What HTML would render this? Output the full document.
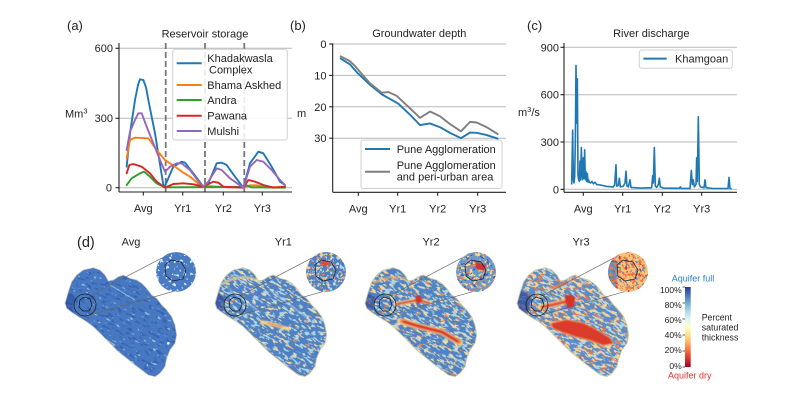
<!DOCTYPE html>
<html><head><meta charset="utf-8"><style>
html,body{margin:0;padding:0;background:#fff;width:800px;height:400px;overflow:hidden;}
svg{display:block;position:absolute;left:0;top:0}
text{font-family:"Liberation Sans",Arial,sans-serif;fill:#222}
</style></head><body>
<svg width="800" height="400" viewBox="0 0 800 400" xmlns="http://www.w3.org/2000/svg">
<defs>
<path id="shp" d="M65,303.3 L68.3,291.7 L71.7,281.7 L76.7,275 L83.3,270 L93.3,267.7 L100,270 L105,275 L108.3,281 L113.3,280 L118.3,276.7 L123.3,275 L130,278.3 L136.7,280 L141.7,283.3 L146.7,288.3 L151.7,295 L156.7,298.3 L161.7,305 L166.7,310 L171.7,316.7 L175,325 L176.7,335 L175,343.3 L170,350 L166.7,358.3 L165,366.7 L160,373.3 L155,376.7 L148.3,375 L141.7,370 L135,365 L126.7,358.3 L118.3,351.7 L111.7,345 L105,338.3 L100,333.3 L93.3,326.7 L86.7,321.7 L78.3,316.7 L71.7,312.3 L66.7,308.3 Z"/>
<clipPath id="cs"><use href="#shp"/></clipPath>
<clipPath id="ci"><circle cx="176" cy="272" r="20"/></clipPath>
<filter id="bl" x="-20%" y="-20%" width="140%" height="140%"><feGaussianBlur stdDeviation="0.7"/></filter>
<linearGradient id="cb" x1="0" y1="1" x2="0" y2="0">
<stop offset="0" stop-color="#a50026"/><stop offset="0.1" stop-color="#d73027"/><stop offset="0.2" stop-color="#f46d43"/><stop offset="0.3" stop-color="#fdae61"/><stop offset="0.4" stop-color="#fee090"/><stop offset="0.5" stop-color="#ffffbf"/><stop offset="0.6" stop-color="#e0f3f8"/><stop offset="0.7" stop-color="#abd9e9"/><stop offset="0.8" stop-color="#74add1"/><stop offset="0.9" stop-color="#4575b4"/><stop offset="1" stop-color="#313695"/>
</linearGradient>
<!-- map noise filters -->
<filter id="aD" x="0" y="0" width="1" height="1" color-interpolation-filters="sRGB"><feTurbulence type="fractalNoise" baseFrequency="0.16 0.4" numOctaves="2" seed="1"/><feColorMatrix type="matrix" values="0 0 0 0 0.22 0 0 0 0 0.38 0 0 0 0 0.69 12 0 0 0 -6.96"/><feComposite in2="SourceGraphic" operator="in"/></filter>
<filter id="aL" x="0" y="0" width="1" height="1" color-interpolation-filters="sRGB"><feTurbulence type="fractalNoise" baseFrequency="0.16 0.4" numOctaves="2" seed="2"/><feColorMatrix type="matrix" values="0 0 0 0 0.62 0 0 0 0 0.79 0 0 0 0 0.88 14 0 0 0 -9.8"/><feComposite in2="SourceGraphic" operator="in"/></filter>
<filter id="b1L" x="0" y="0" width="1" height="1" color-interpolation-filters="sRGB"><feTurbulence type="fractalNoise" baseFrequency="0.16 0.4" numOctaves="2" seed="3"/><feColorMatrix type="matrix" values="0 0 0 0 0.66 0 0 0 0 0.83 0 0 0 0 0.91 14 0 0 0 -7.84"/><feComposite in2="SourceGraphic" operator="in"/></filter>
<filter id="b1Y" x="0" y="0" width="1" height="1" color-interpolation-filters="sRGB"><feTurbulence type="fractalNoise" baseFrequency="0.16 0.4" numOctaves="2" seed="5"/><feColorMatrix type="matrix" values="0 0 0 0 0.95 0 0 0 0 0.86 0 0 0 0 0.63 14 0 0 0 -8.68"/><feComposite in2="SourceGraphic" operator="in"/></filter>
<filter id="b1O" x="0" y="0" width="1" height="1" color-interpolation-filters="sRGB"><feTurbulence type="fractalNoise" baseFrequency="0.16 0.4" numOctaves="2" seed="7"/><feColorMatrix type="matrix" values="0 0 0 0 0.95 0 0 0 0 0.62 0 0 0 0 0.38 14 0 0 0 -9.94"/><feComposite in2="SourceGraphic" operator="in"/></filter>
<filter id="b2L" x="0" y="0" width="1" height="1" color-interpolation-filters="sRGB"><feTurbulence type="fractalNoise" baseFrequency="0.16 0.4" numOctaves="2" seed="14"/><feColorMatrix type="matrix" values="0 0 0 0 0.66 0 0 0 0 0.83 0 0 0 0 0.91 14 0 0 0 -7.7"/><feComposite in2="SourceGraphic" operator="in"/></filter>
<filter id="b2Y" x="0" y="0" width="1" height="1" color-interpolation-filters="sRGB"><feTurbulence type="fractalNoise" baseFrequency="0.16 0.4" numOctaves="2" seed="8"/><feColorMatrix type="matrix" values="0 0 0 0 0.96 0 0 0 0 0.85 0 0 0 0 0.6 14 0 0 0 -8.26"/><feComposite in2="SourceGraphic" operator="in"/></filter>
<filter id="b2O" x="0" y="0" width="1" height="1" color-interpolation-filters="sRGB"><feTurbulence type="fractalNoise" baseFrequency="0.16 0.4" numOctaves="2" seed="9"/><feColorMatrix type="matrix" values="0 0 0 0 0.94 0 0 0 0 0.52 0 0 0 0 0.32 14 0 0 0 -9.38"/><feComposite in2="SourceGraphic" operator="in"/></filter>
<filter id="b3L" x="0" y="0" width="1" height="1" color-interpolation-filters="sRGB"><feTurbulence type="fractalNoise" baseFrequency="0.16 0.4" numOctaves="2" seed="11"/><feColorMatrix type="matrix" values="0 0 0 0 0.69 0 0 0 0 0.84 0 0 0 0 0.92 14 0 0 0 -7.56"/><feComposite in2="SourceGraphic" operator="in"/></filter>
<filter id="b3Y" x="0" y="0" width="1" height="1" color-interpolation-filters="sRGB"><feTurbulence type="fractalNoise" baseFrequency="0.16 0.4" numOctaves="2" seed="12"/><feColorMatrix type="matrix" values="0 0 0 0 0.97 0 0 0 0 0.84 0 0 0 0 0.58 14 0 0 0 -7.7"/><feComposite in2="SourceGraphic" operator="in"/></filter>
<filter id="b3O" x="0" y="0" width="1" height="1" color-interpolation-filters="sRGB"><feTurbulence type="fractalNoise" baseFrequency="0.16 0.4" numOctaves="2" seed="13"/><feColorMatrix type="matrix" values="0 0 0 0 0.93 0 0 0 0 0.45 0 0 0 0 0.28 14 0 0 0 -8.68"/><feComposite in2="SourceGraphic" operator="in"/></filter>
<!-- rotated noise patterns -->
<pattern id="PaD" patternUnits="userSpaceOnUse" x="0" y="0" width="400" height="400" patternTransform="rotate(30 120 320)"><rect x="0" y="100" width="300" height="300" filter="url(#aD)"/></pattern>
<pattern id="PaL" patternUnits="userSpaceOnUse" x="0" y="0" width="400" height="400" patternTransform="rotate(30 120 320)"><rect x="0" y="100" width="300" height="300" filter="url(#aL)"/></pattern>
<pattern id="P1L" patternUnits="userSpaceOnUse" x="0" y="0" width="400" height="400" patternTransform="rotate(30 120 320)"><rect x="0" y="100" width="300" height="300" filter="url(#b1L)"/></pattern>
<pattern id="P1Y" patternUnits="userSpaceOnUse" x="0" y="0" width="400" height="400" patternTransform="rotate(30 120 320)"><rect x="0" y="100" width="300" height="300" filter="url(#b1Y)"/></pattern>
<pattern id="P1O" patternUnits="userSpaceOnUse" x="0" y="0" width="400" height="400" patternTransform="rotate(30 120 320)"><rect x="0" y="100" width="300" height="300" filter="url(#b1O)"/></pattern>
<pattern id="P2L" patternUnits="userSpaceOnUse" x="0" y="0" width="400" height="400" patternTransform="rotate(30 120 320)"><rect x="0" y="100" width="300" height="300" filter="url(#b2L)"/></pattern>
<pattern id="P2Y" patternUnits="userSpaceOnUse" x="0" y="0" width="400" height="400" patternTransform="rotate(30 120 320)"><rect x="0" y="100" width="300" height="300" filter="url(#b2Y)"/></pattern>
<pattern id="P2O" patternUnits="userSpaceOnUse" x="0" y="0" width="400" height="400" patternTransform="rotate(30 120 320)"><rect x="0" y="100" width="300" height="300" filter="url(#b2O)"/></pattern>
<pattern id="P3L" patternUnits="userSpaceOnUse" x="0" y="0" width="400" height="400" patternTransform="rotate(30 120 320)"><rect x="0" y="100" width="300" height="300" filter="url(#b3L)"/></pattern>
<pattern id="P3Y" patternUnits="userSpaceOnUse" x="0" y="0" width="400" height="400" patternTransform="rotate(30 120 320)"><rect x="0" y="100" width="300" height="300" filter="url(#b3Y)"/></pattern>
<pattern id="P3O" patternUnits="userSpaceOnUse" x="0" y="0" width="400" height="400" patternTransform="rotate(30 120 320)"><rect x="0" y="100" width="300" height="300" filter="url(#b3O)"/></pattern>
<!-- inset filters -->
<filter id="iA" x="0" y="0" width="1" height="1" color-interpolation-filters="sRGB"><feTurbulence type="fractalNoise" baseFrequency="0.3" numOctaves="2" seed="21"/><feColorMatrix type="matrix" values="0 0 0 0 0.83 0 0 0 0 0.93 0 0 0 0 0.96 14 0 0 0 -8.68"/><feComposite in2="SourceGraphic" operator="in"/></filter>
<filter id="i1L" x="0" y="0" width="1" height="1" color-interpolation-filters="sRGB"><feTurbulence type="fractalNoise" baseFrequency="0.3" numOctaves="2" seed="22"/><feColorMatrix type="matrix" values="0 0 0 0 0.71 0 0 0 0 0.86 0 0 0 0 0.93 14 0 0 0 -8.12"/><feComposite in2="SourceGraphic" operator="in"/></filter>
<filter id="i1Y" x="0" y="0" width="1" height="1" color-interpolation-filters="sRGB"><feTurbulence type="fractalNoise" baseFrequency="0.3" numOctaves="2" seed="23"/><feColorMatrix type="matrix" values="0 0 0 0 0.96 0 0 0 0 0.82 0 0 0 0 0.56 14 0 0 0 -8.26"/><feComposite in2="SourceGraphic" operator="in"/></filter>
<filter id="i1O" x="0" y="0" width="1" height="1" color-interpolation-filters="sRGB"><feTurbulence type="fractalNoise" baseFrequency="0.3" numOctaves="2" seed="24"/><feColorMatrix type="matrix" values="0 0 0 0 0.94 0 0 0 0 0.5 0 0 0 0 0.3 14 0 0 0 -9.24"/><feComposite in2="SourceGraphic" operator="in"/></filter>
<filter id="i2Y" x="0" y="0" width="1" height="1" color-interpolation-filters="sRGB"><feTurbulence type="fractalNoise" baseFrequency="0.3" numOctaves="2" seed="25"/><feColorMatrix type="matrix" values="0 0 0 0 0.97 0 0 0 0 0.85 0 0 0 0 0.56 14 0 0 0 -7.7"/><feComposite in2="SourceGraphic" operator="in"/></filter>
<filter id="i2O" x="0" y="0" width="1" height="1" color-interpolation-filters="sRGB"><feTurbulence type="fractalNoise" baseFrequency="0.3" numOctaves="2" seed="26"/><feColorMatrix type="matrix" values="0 0 0 0 0.94 0 0 0 0 0.47 0 0 0 0 0.28 14 0 0 0 -8.54"/><feComposite in2="SourceGraphic" operator="in"/></filter>
<filter id="i2D" x="0" y="0" width="1" height="1" color-interpolation-filters="sRGB"><feTurbulence type="fractalNoise" baseFrequency="0.3" numOctaves="2" seed="27"/><feColorMatrix type="matrix" values="0 0 0 0 0.21 0 0 0 0 0.38 0 0 0 0 0.66 14 0 0 0 -8.68"/><feComposite in2="SourceGraphic" operator="in"/></filter>
<filter id="i3O" x="0" y="0" width="1" height="1" color-interpolation-filters="sRGB"><feTurbulence type="fractalNoise" baseFrequency="0.3" numOctaves="2" seed="28"/><feColorMatrix type="matrix" values="0 0 0 0 0.94 0 0 0 0 0.48 0 0 0 0 0.28 14 0 0 0 -7.7"/><feComposite in2="SourceGraphic" operator="in"/></filter>
<filter id="i3B" x="0" y="0" width="1" height="1" color-interpolation-filters="sRGB"><feTurbulence type="fractalNoise" baseFrequency="0.3" numOctaves="2" seed="29"/><feColorMatrix type="matrix" values="0 0 0 0 0.37 0 0 0 0 0.56 0 0 0 0 0.79 14 0 0 0 -8.4"/><feComposite in2="SourceGraphic" operator="in"/></filter>
<filter id="i3R" x="0" y="0" width="1" height="1" color-interpolation-filters="sRGB"><feTurbulence type="fractalNoise" baseFrequency="0.3" numOctaves="2" seed="30"/><feColorMatrix type="matrix" values="0 0 0 0 0.84 0 0 0 0 0.21 0 0 0 0 0.16 14 0 0 0 -9.1"/><feComposite in2="SourceGraphic" operator="in"/></filter>
</defs>

<!-- ================= Panel (a) ================= -->
<text x="67" y="29.8" font-size="13">(a)</text>
<text x="205" y="37.5" font-size="11" text-anchor="middle">Reservoir storage</text>
<g stroke="#b8b8b8" stroke-width="1">
<line x1="119" y1="48.3" x2="292" y2="48.3"/>
<line x1="119" y1="118.3" x2="292" y2="118.3"/>
<line x1="119" y1="187.7" x2="292" y2="187.7"/>
</g>
<g stroke="#777" stroke-width="1.8" stroke-dasharray="6,3">
<line x1="165.7" y1="43" x2="165.7" y2="192"/>
<line x1="205" y1="43" x2="205" y2="192"/>
<line x1="244.3" y1="43" x2="244.3" y2="192"/>
</g>
<g transform="translate(50,0) scale(0.333333)" fill="none" stroke-width="1.9" stroke-linejoin="round" stroke-linecap="round">
<polyline vector-effect="non-scaling-stroke" stroke="#1f77b4" points="230,500 240,400 255,300 264,255 270,238 280,240 288,262 295,300 315,400 340,555 345,558 370,500 395,485 405,488 430,520 460,560 475,550 500,490 515,488 530,495 555,530 580,563 600,490 625,455 640,460 665,500 690,545 705,555"/>
<polyline vector-effect="non-scaling-stroke" stroke="#ff7f0e" points="230,475 240,420 255,413 295,415 320,450 345,480 375,500 400,518 420,530 450,555 470,558 540,562 580,563 600,556 620,556 650,561 705,562"/>
<polyline vector-effect="non-scaling-stroke" stroke="#2ca02c" points="230,555 245,535 270,520 282,515 300,530 320,550 345,562 575,561 590,556 605,562 705,563"/>
<polyline vector-effect="non-scaling-stroke" stroke="#d62728" points="230,520 238,495 250,492 275,500 300,520 320,545 345,563 370,552 400,550 430,553 460,560 490,545 505,548 520,560 580,563 595,540 615,545 640,555 670,563 705,560"/>
<polyline vector-effect="non-scaling-stroke" stroke="#9467bd" points="230,450 240,395 255,360 265,340 275,340 290,380 310,430 330,480 345,515 360,500 380,490 395,490 420,510 450,550 460,560 475,545 500,505 515,510 540,535 580,563 600,500 620,480 640,485 665,510 690,540 705,555"/>
</g>
<!-- legend a -->
<rect x="172.7" y="49.3" width="114.6" height="90.7" rx="2.5" fill="#fff" fill-opacity="0.85" stroke="#d0d0d0" stroke-width="1"/>
<g stroke-width="2">
<line x1="176.7" y1="63.3" x2="201.7" y2="63.3" stroke="#1f77b4"/>
<line x1="176.7" y1="85" x2="201.7" y2="85" stroke="#ff7f0e"/>
<line x1="176.7" y1="100" x2="201.7" y2="100" stroke="#2ca02c"/>
<line x1="176.7" y1="115.7" x2="201.7" y2="115.7" stroke="#d62728"/>
<line x1="176.7" y1="131" x2="201.7" y2="131" stroke="#9467bd"/>
</g>
<g font-size="11">
<text x="207.3" y="62">Khadakwasla</text>
<text x="209" y="73.7">Complex</text>
<text x="207.3" y="89">Bhama Askhed</text>
<text x="207.3" y="104">Andra</text>
<text x="207.3" y="119.7">Pawana</text>
<text x="207.3" y="135">Mulshi</text>
</g>
<!-- axes a -->
<g stroke="#222" stroke-width="1.1">
<line x1="119" y1="43" x2="119" y2="192"/>
<line x1="119" y1="192" x2="292" y2="192"/>
<line x1="115.5" y1="48.3" x2="119" y2="48.3"/>
<line x1="115.5" y1="118.3" x2="119" y2="118.3"/>
<line x1="115.5" y1="187.7" x2="119" y2="187.7"/>
<line x1="143.3" y1="192" x2="143.3" y2="195.5"/>
<line x1="182.7" y1="192" x2="182.7" y2="195.5"/>
<line x1="223.3" y1="192" x2="223.3" y2="195.5"/>
<line x1="262.3" y1="192" x2="262.3" y2="195.5"/>
</g>
<g font-size="11">
<text x="113" y="52" text-anchor="end">600</text>
<text x="113" y="122" text-anchor="end">300</text>
<text x="112" y="191.5" text-anchor="end">0</text>
<text x="65" y="117.5">Mm<tspan font-size="7.5" dy="-4">3</tspan></text>
<text x="143.3" y="212" text-anchor="middle">Avg</text>
<text x="182.7" y="212" text-anchor="middle">Yr1</text>
<text x="223.3" y="212" text-anchor="middle">Yr2</text>
<text x="262.3" y="212" text-anchor="middle">Yr3</text>
</g>

<!-- ================= Panel (b) ================= -->
<text x="290" y="29.8" font-size="13">(b)</text>
<text x="419.3" y="37" font-size="11" text-anchor="middle">Groundwater depth</text>
<g stroke="#b8b8b8" stroke-width="1">
<line x1="332.7" y1="44" x2="506" y2="44"/>
<line x1="332.7" y1="75.4" x2="506" y2="75.4"/>
<line x1="332.7" y1="106.8" x2="506" y2="106.8"/>
<line x1="332.7" y1="138.2" x2="506" y2="138.2"/>
</g>
<g transform="translate(300,44) scale(0.333333,3.14)" fill="none" stroke-width="1.9" stroke-linejoin="round">
<polyline vector-effect="non-scaling-stroke" stroke="#1f77b4" points="120,4.5 150,6.5 175,9.5 210,13 245,16 270,17.5 295,19 330,22.5 360,25.8 390,25.3 420,26.5 450,28.3 483,30 510,28.2 530,28.3 560,29 595,30.2"/>
<polyline vector-effect="non-scaling-stroke" stroke="#7f7f7f" points="120,3.8 150,5.5 165,7 185,9.5 210,12.5 245,15.5 265,15.3 290,16.5 330,20.5 360,23.5 390,21.5 420,23 450,25.5 483,27.8 510,24.8 530,25 560,26.5 595,28.8"/>
</g>
<rect x="361" y="140" width="141" height="48.5" rx="2.5" fill="#fff" fill-opacity="0.85" stroke="#d0d0d0" stroke-width="1"/>
<line x1="365" y1="149" x2="390" y2="149" stroke="#1f77b4" stroke-width="2"/>
<line x1="365" y1="171.7" x2="390" y2="171.7" stroke="#7f7f7f" stroke-width="2"/>
<g font-size="11">
<text x="396.7" y="153">Pune Agglomeration</text>
<text x="396.7" y="169">Pune Agglomeration</text>
<text x="396.7" y="180.5">and peri-urban area</text>
</g>
<g stroke="#222" stroke-width="1.1">
<line x1="332.7" y1="43.3" x2="332.7" y2="192.3"/>
<line x1="332.7" y1="192.3" x2="506" y2="192.3"/>
<line x1="329.2" y1="44" x2="332.7" y2="44"/>
<line x1="329.2" y1="75.4" x2="332.7" y2="75.4"/>
<line x1="329.2" y1="106.8" x2="332.7" y2="106.8"/>
<line x1="329.2" y1="138.2" x2="332.7" y2="138.2"/>
<line x1="358.3" y1="192.3" x2="358.3" y2="195.8"/>
<line x1="397.7" y1="192.3" x2="397.7" y2="195.8"/>
<line x1="437.7" y1="192.3" x2="437.7" y2="195.8"/>
<line x1="477.7" y1="192.3" x2="477.7" y2="195.8"/>
</g>
<g font-size="11">
<text x="326.5" y="48" text-anchor="end">0</text>
<text x="326.5" y="79.4" text-anchor="end">10</text>
<text x="326.5" y="110.8" text-anchor="end">20</text>
<text x="326.5" y="142.2" text-anchor="end">30</text>
<text x="297" y="117">m</text>
<text x="358.3" y="212.3" text-anchor="middle">Avg</text>
<text x="397.7" y="212.3" text-anchor="middle">Yr1</text>
<text x="437.7" y="212.3" text-anchor="middle">Yr2</text>
<text x="477.7" y="212.3" text-anchor="middle">Yr3</text>
</g>

<!-- ================= Panel (c) ================= -->
<text x="527" y="29.8" font-size="13">(c)</text>
<text x="651.3" y="37" font-size="11" text-anchor="middle">River discharge</text>
<g stroke="#b8b8b8" stroke-width="1">
<line x1="564" y1="47.3" x2="737" y2="47.3"/>
<line x1="564" y1="94.7" x2="737" y2="94.7"/>
<line x1="564" y1="142" x2="737" y2="142"/>
<line x1="564" y1="189.3" x2="737" y2="189.3"/>
</g>
<g transform="translate(500,189.3) scale(0.333333,-0.15778)" fill="none" stroke-width="1.6" stroke-linejoin="round">
<polyline vector-effect="non-scaling-stroke" stroke="#1f77b4" points="215,30 218,375 220,60 222,40 224,80 226,300 228,785 230,420 232,700 234,90 236,60 238,50 240,180 242,60 244,265 246,100 248,60 250,200 252,70 254,250 256,60 258,110 260,50 262,100 264,45 266,60 268,45 272,40 276,50 280,35 285,45 290,30 300,28 320,18 340,15 344,30 348,155 350,20 355,25 358,70 361,15 370,20 375,40 378,115 381,20 385,15 390,60 393,12 420,8 455,10 458,85 460,40 463,265 466,20 470,12 475,30 478,70 481,15 490,8 538,6 541,15 544,6 570,5 574,120 577,30 580,60 583,15 588,30 590,200 592,50 595,460 598,30 602,15 612,10 615,60 618,10 640,5 684,5 687,75 690,5 695,4"/>
</g>
<rect x="639.3" y="50" width="93" height="18.3" rx="2.5" fill="#fff" fill-opacity="0.85" stroke="#d0d0d0" stroke-width="1"/>
<line x1="643.3" y1="58.6" x2="666.7" y2="58.6" stroke="#1f77b4" stroke-width="2"/>
<text x="675" y="62.5" font-size="11">Khamgoan</text>
<g stroke="#222" stroke-width="1.1">
<line x1="564" y1="43" x2="564" y2="192.3"/>
<line x1="564" y1="192.3" x2="737" y2="192.3"/>
<line x1="560.5" y1="47.3" x2="564" y2="47.3"/>
<line x1="560.5" y1="94.7" x2="564" y2="94.7"/>
<line x1="560.5" y1="142" x2="564" y2="142"/>
<line x1="560.5" y1="189.3" x2="564" y2="189.3"/>
<line x1="583.3" y1="192.3" x2="583.3" y2="195.8"/>
<line x1="622.7" y1="192.3" x2="622.7" y2="195.8"/>
<line x1="662.3" y1="192.3" x2="662.3" y2="195.8"/>
<line x1="701.7" y1="192.3" x2="701.7" y2="195.8"/>
</g>
<g font-size="11">
<text x="559" y="51.3" text-anchor="end">900</text>
<text x="559" y="98.7" text-anchor="end">600</text>
<text x="559" y="146" text-anchor="end">300</text>
<text x="559" y="193.3" text-anchor="end">0</text>
<text x="518" y="116">m<tspan font-size="7.5" dy="-4">3</tspan><tspan dy="4">/s</tspan></text>
<text x="583.3" y="212.3" text-anchor="middle">Avg</text>
<text x="622.7" y="212.3" text-anchor="middle">Yr1</text>
<text x="662.3" y="212.3" text-anchor="middle">Yr2</text>
<text x="701.7" y="212.3" text-anchor="middle">Yr3</text>
</g>

<!-- ================= Panel (d) ================= -->
<text x="77" y="247" font-size="14.5">(d)</text>
<g font-size="11" text-anchor="middle">
<text x="131" y="245.5">Avg</text>
<text x="283.3" y="245.5">Yr1</text>
<text x="431" y="245.5">Yr2</text>
<text x="581" y="245.5">Yr3</text>
</g>

<!-- Avg map -->
<g>
<use href="#shp" fill="#4779c2"/>
<use href="#shp" fill="url(#PaD)"/>
<use href="#shp" fill="url(#PaL)"/>
<g clip-path="url(#cs)">
<path d="M62,288 L76,298 L71,315 L62,310Z" fill="#2f4d9e" opacity="0.6" filter="url(#bl)"/>
<path d="M110,285 L135,300" stroke="#a9d2e6" stroke-width="1.2" opacity="0.6"/>
<path d="M95,333 L115,345" stroke="#d8d6b0" stroke-width="1.2" opacity="0.6"/>
<circle cx="168.3" cy="343.3" r="1.3" fill="#fff"/>
</g>
<use href="#shp" fill="none" stroke="#c9c9b8" stroke-width="0.7"/>
<g clip-path="url(#ci)">
<circle cx="176" cy="272" r="20" fill="#4a7bc2"/>
<rect x="150" y="246" width="52" height="52" filter="url(#iA)"/>
<path d="M165,265 L171,260 L181,262 L186,270 L183,279 L173,281 L166,276Z" fill="none" stroke="#1a1a2a" stroke-width="0.7"/>
</g>
<line x1="90.5" y1="295.5" x2="161.9" y2="257.9" stroke="#666" stroke-width="0.7"/>
<line x1="87" y1="315.8" x2="172.5" y2="291.7" stroke="#666" stroke-width="0.7"/>
<circle cx="85" cy="305" r="11" fill="none" stroke="#222" stroke-width="0.8"/>
<path d="M80,300 L84,297 L90,299 L92,305 L89,311 L83,311 L79,307Z" fill="none" stroke="#111" stroke-width="0.7"/>
</g>

<!-- Yr1 map -->
<g transform="translate(150,0)">
<use href="#shp" fill="#4e80c3"/>
<use href="#shp" fill="url(#P1L)"/>
<use href="#shp" fill="url(#P1Y)"/>
<use href="#shp" fill="url(#P1O)"/>
<g clip-path="url(#cs)">
<path d="M62,288 L76,298 L71,315 L62,310Z" fill="#2d4b9c" opacity="0.7" filter="url(#bl)"/>
<g fill="none" stroke-linecap="round" filter="url(#bl)">
<path d="M72,284 Q90,273 106,280" stroke="#f2d496" stroke-width="2.5" opacity="0.8"/>
<path d="M112,322 L125,325 L138,329" stroke="#f6d28d" stroke-width="3.5"/>
<path d="M118,323 L132,327" stroke="#ef8a4e" stroke-width="1.5"/>
<path d="M80,290 L110,312" stroke="#b5dbeb" stroke-width="1.5" opacity="0.7"/>
<path d="M120,290 L160,320" stroke="#b5dbeb" stroke-width="1.5" opacity="0.7"/>
<path d="M95,335 L120,350" stroke="#cde6f0" stroke-width="1.5" opacity="0.7"/>
</g>
</g>
<use href="#shp" fill="none" stroke="#d9c9a0" stroke-width="0.9"/>
<g clip-path="url(#ci)">
<circle cx="176" cy="272" r="20" fill="#4d7fc3"/>
<rect x="150" y="246" width="52" height="52" filter="url(#i1L)"/>
<rect x="150" y="246" width="52" height="52" filter="url(#i1Y)"/>
<rect x="150" y="246" width="52" height="52" filter="url(#i1O)"/>
<path d="M172,260 L180,262 L178,266 L171,265Z" fill="#e8452e" filter="url(#bl)"/>
<path d="M165,265 L171,260 L181,262 L186,270 L183,279 L173,281 L166,276Z" fill="none" stroke="#1a1a2a" stroke-width="0.7"/>
</g>
<line x1="90.5" y1="295.5" x2="161.9" y2="257.9" stroke="#666" stroke-width="0.7"/>
<line x1="87" y1="315.8" x2="172.5" y2="291.7" stroke="#666" stroke-width="0.7"/>
<circle cx="85" cy="305" r="11" fill="none" stroke="#222" stroke-width="0.8"/>
<path d="M80,300 L84,297 L90,299 L92,305 L89,311 L83,311 L79,307Z" fill="none" stroke="#111" stroke-width="0.7"/>
<circle cx="84" cy="301" r="1.3" fill="#ee6a40"/>
</g>

<!-- Yr2 map -->
<g transform="translate(300,0)">
<use href="#shp" fill="#4f82c4"/>
<use href="#shp" fill="url(#P2L)"/>
<use href="#shp" fill="url(#P2Y)"/>
<use href="#shp" fill="url(#P2O)"/>
<g clip-path="url(#cs)">
<path d="M62,288 L76,298 L71,315 L62,310Z" fill="#2d4b9c" opacity="0.7" filter="url(#bl)"/>
<g fill="none" stroke-linecap="round" stroke-linejoin="round" filter="url(#bl)">
<path d="M74,283 Q92,273 108,280" stroke="#f5b570" stroke-width="2" opacity="0.8"/>
<path d="M95,304 L118,300 L130,303" stroke="#f6d28d" stroke-width="4"/>
<path d="M97,304 L118,300 L129,303" stroke="#d73027" stroke-width="2"/>
<path d="M100,321 L118,326 L142,332 L160,343" stroke="#f8d08a" stroke-width="6"/>
<path d="M102,321 L118,326 L142,332 L159,342" stroke="#f07a48" stroke-width="4"/>
<path d="M104,322 L118,326 L142,332 L157,341" stroke="#d73027" stroke-width="2.5"/>
</g>
<path d="M116,296 L120,295.5 L122,299 L121,303 L117,303.5 L115.5,300Z" fill="#d73027" filter="url(#bl)"/>
</g>
<use href="#shp" fill="none" stroke="#d9c9a0" stroke-width="0.9"/>
<g clip-path="url(#ci)">
<circle cx="176" cy="272" r="20" fill="#6a9acd"/>
<rect x="150" y="246" width="52" height="52" filter="url(#i2Y)"/>
<rect x="150" y="246" width="52" height="52" filter="url(#i2O)"/>
<rect x="150" y="246" width="52" height="52" filter="url(#i2D)"/>
<path d="M176,262 L186,265 L184,271 L175,268Z" fill="#d73027" filter="url(#bl)"/>
<path d="M165,265 L171,260 L181,262 L186,270 L183,279 L173,281 L166,276Z" fill="none" stroke="#1a1a2a" stroke-width="0.7"/>
</g>
<line x1="90.5" y1="295.5" x2="161.9" y2="257.9" stroke="#666" stroke-width="0.7"/>
<line x1="87" y1="315.8" x2="172.5" y2="291.7" stroke="#666" stroke-width="0.7"/>
<circle cx="85" cy="305" r="11" fill="none" stroke="#222" stroke-width="0.8"/>
<path d="M80,300 L84,297 L90,299 L92,305 L89,311 L83,311 L79,307Z" fill="none" stroke="#111" stroke-width="0.7"/>
</g>

<!-- Yr3 map -->
<g transform="translate(452,0)">
<use href="#shp" fill="#5a8bc8"/>
<use href="#shp" fill="url(#P3L)"/>
<use href="#shp" fill="url(#P3Y)"/>
<use href="#shp" fill="url(#P3O)"/>
<g clip-path="url(#cs)">
<path d="M62,287 L80,296 L76,315 L62,311Z" fill="#2d4b9c" opacity="0.75" filter="url(#bl)"/>
<g fill="none" stroke-linecap="round" stroke-linejoin="round" filter="url(#bl)">
<path d="M100,288 L115,283" stroke="#f07a48" stroke-width="2.5"/>
<path d="M88,307 L104,304 L121,300" stroke="#f8d08a" stroke-width="5"/>
<path d="M90,307 L104,304 L121,300" stroke="#e2462e" stroke-width="3"/>
</g>
<path d="M97,323 L114.7,319 L131.3,322.5 L144.7,329.5 L158,337.5 L162,343.5 L151.3,346 L138,341 L124.7,337.5 L111.3,333 L101.3,329Z" fill="#f6b26b" filter="url(#bl)"/>
<path d="M99,323.5 L114.7,320 L131.3,323.3 L144.7,330 L158,338.3 L161.3,343.3 L151.3,345 L138,340 L124.7,336.7 L111.3,332.3 L101.3,328.3Z" fill="#db3b2b" filter="url(#bl)"/>
<path d="M113,296 L118,294.5 L123,297 L122.5,303 L121,308 L115,307.5 L113.5,302Z" fill="#d73027" filter="url(#bl)"/>
</g>
<use href="#shp" fill="none" stroke="#d9c9a0" stroke-width="0.9"/>
<g clip-path="url(#ci)">
<circle cx="176" cy="272" r="20" fill="#f8c37a"/>
<rect x="150" y="246" width="52" height="52" filter="url(#i3B)"/>
<path d="M155,255 L166,262 L164,290 L155,290Z" fill="#4f80c3" opacity="0.8" filter="url(#bl)"/>
<rect x="150" y="246" width="52" height="52" filter="url(#i3O)"/>
<rect x="150" y="246" width="52" height="52" filter="url(#i3R)"/>
<path d="M165,265 L171,260 L181,262 L186,270 L183,279 L173,281 L166,276Z" fill="none" stroke="#1a1a2a" stroke-width="0.7"/>
</g>
<line x1="90.5" y1="295.5" x2="161.9" y2="257.9" stroke="#666" stroke-width="0.7"/>
<line x1="87" y1="315.8" x2="172.5" y2="291.7" stroke="#666" stroke-width="0.7"/>
<circle cx="85" cy="305" r="11" fill="none" stroke="#222" stroke-width="0.8"/>
<path d="M80,300 L84,297 L90,299 L92,305 L89,311 L83,311 L79,307Z" fill="none" stroke="#111" stroke-width="0.7"/>
</g>

<!-- Colorbar -->
<text x="671.7" y="281.5" font-size="9" style="fill:#2a7fc8">Aquifer full</text>
<rect x="685" y="287" width="5.7" height="80" fill="url(#cb)"/>
<g stroke="#333" stroke-width="0.8">
<line x1="682.5" y1="287" x2="685" y2="287"/>
<line x1="682.5" y1="303" x2="685" y2="303"/>
<line x1="682.5" y1="319" x2="685" y2="319"/>
<line x1="682.5" y1="335" x2="685" y2="335"/>
<line x1="682.5" y1="351" x2="685" y2="351"/>
<line x1="682.5" y1="367" x2="685" y2="367"/>
</g>
<g font-size="8.5" text-anchor="end">
<text x="681.7" y="293">100%</text>
<text x="681.7" y="308">80%</text>
<text x="681.7" y="323">60%</text>
<text x="681.7" y="338">40%</text>
<text x="681.7" y="353">20%</text>
<text x="681.7" y="369">0%</text>
</g>
<g font-size="8.8">
<text x="701.7" y="320.5">Percent</text>
<text x="701.7" y="330.5">saturated</text>
<text x="701.7" y="340.5">thickness</text>
</g>
<text x="668" y="378.5" font-size="9" style="fill:#e03030">Aquifer dry</text>
</svg>
</body></html>
